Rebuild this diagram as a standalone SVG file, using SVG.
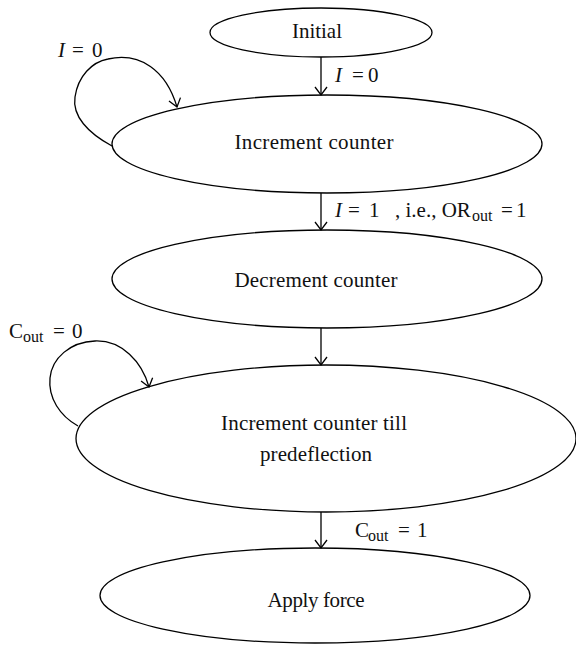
<svg xmlns="http://www.w3.org/2000/svg" width="576" height="646" viewBox="0 0 576 646">
  <style>
    .node { fill: #ffffff; stroke: #000000; stroke-width: 1.3; }
    .edge { fill: none; stroke: #000000; stroke-width: 1.3; }
    .lbl { font-family: "Liberation Serif", "Times New Roman", serif; font-size: 21px; fill: #111111; }
    .nl { text-anchor: middle; }
    .it { font-style: italic; }
    .sub { font-size: 16px; }
  </style>
  <defs>
    <marker id="arr" markerUnits="userSpaceOnUse" markerWidth="20" markerHeight="20" refX="10" refY="10" orient="auto" overflow="visible">
      <path d="M2,4 L10,10 L2,16" fill="none" stroke="#000" stroke-width="1.3"/>
    </marker>
  </defs>

  <g id="n-initial">
    <ellipse class="node" cx="321" cy="32.5" rx="111" ry="24.5"/>
    <text class="lbl nl" x="317" y="38" textLength="50">Initial</text>
  </g>

  <g id="n-increment">
    <ellipse class="node" cx="327" cy="144" rx="215" ry="49"/>
    <text class="lbl nl" x="314" y="149" textLength="159">Increment counter</text>
  </g>

  <g id="n-decrement">
    <ellipse class="node" cx="327" cy="279" rx="215" ry="49"/>
    <text class="lbl nl" x="316" y="287" textLength="163">Decrement counter</text>
  </g>

  <g id="n-till">
    <ellipse class="node" cx="326" cy="438.5" rx="250" ry="73.5"/>
    <text class="lbl nl" x="314" y="430" textLength="186">Increment counter till</text>
    <text class="lbl nl" x="316" y="461" textLength="112">predeflection</text>
  </g>

  <g id="n-apply">
    <ellipse class="node" cx="315" cy="595.5" rx="215" ry="47.5"/>
    <text class="lbl nl" x="316" y="607" textLength="97">Apply force</text>
  </g>

  <g id="connectors">
    <line class="edge" x1="321" y1="57" x2="321" y2="95" marker-end="url(#arr)"/>
    <line class="edge" x1="321" y1="193" x2="321" y2="230" marker-end="url(#arr)"/>
    <line class="edge" x1="321" y1="328" x2="321" y2="365" marker-end="url(#arr)"/>
    <line class="edge" x1="321" y1="512" x2="321" y2="548" marker-end="url(#arr)"/>
    <path class="edge" d="M112,146 C88,133 72,116 75,97 C78,76 92,62 108,59 C140,52 166,70 177,107" marker-end="url(#arr)"/>
    <path class="edge" d="M78,426 C60,416 48,398 50,378 C52,358 70,342 95,341 C122,340 142,362 149,387" marker-end="url(#arr)"/>

    <text class="lbl"><tspan class="it" x="58" y="57">I</tspan><tspan x="72" y="57">=</tspan><tspan x="92" y="57">0</tspan></text>
    <text class="lbl"><tspan class="it" x="335" y="82">I</tspan><tspan x="352" y="82">=</tspan><tspan x="368" y="82">0</tspan></text>
    <text class="lbl"><tspan class="it" x="335" y="217">I</tspan><tspan x="348" y="217">=</tspan><tspan x="369" y="217">1</tspan><tspan x="395" y="217">, i.e., OR</tspan><tspan class="sub" x="472" y="221">out</tspan><tspan x="501" y="217">=</tspan><tspan x="516" y="217">1</tspan></text>
    <text class="lbl"><tspan x="9" y="338">C</tspan><tspan class="sub" x="23" y="342">out</tspan><tspan x="53" y="338">=</tspan><tspan x="72" y="338">0</tspan></text>
    <text class="lbl"><tspan x="355" y="537">C</tspan><tspan class="sub" x="368" y="541">out</tspan><tspan x="398" y="537">=</tspan><tspan x="417" y="537">1</tspan></text>
  </g>
</svg>
